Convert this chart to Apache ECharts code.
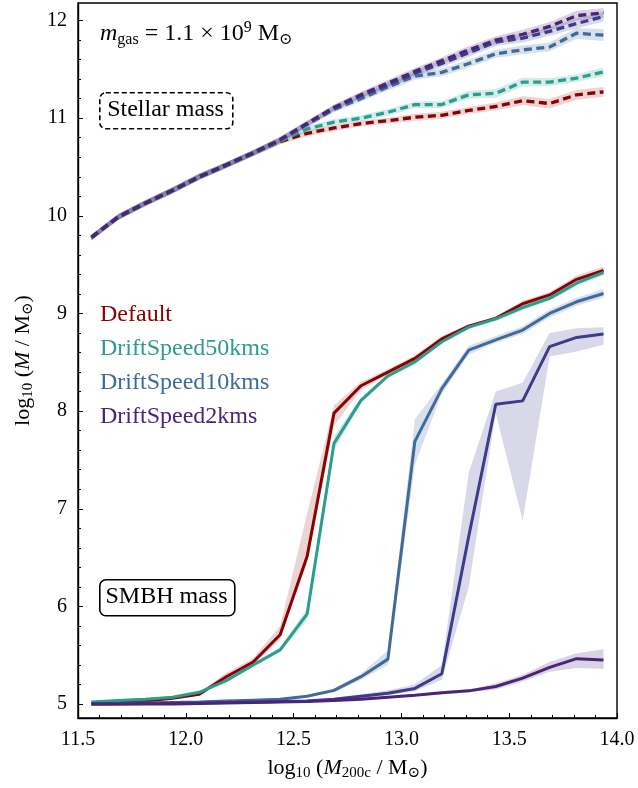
<!DOCTYPE html>
<html>
<head>
<meta charset="utf-8">
<script src="https://cdn.jsdelivr.net/npm/echarts@6/dist/echarts.min.js"></script>
<style>
html,body{margin:0;padding:0;background:#fff;}
#chart{width:638px;height:788px;}
</style>
</head>
<body>
<div id="chart"></div>
<script>
// ---------------- data ----------------
const massBins = [11.5625, 11.6875, 11.8125, 11.9375, 12.0625, 12.1875, 12.3125, 12.4375, 12.5625, 12.6875,
                  12.8125, 12.9375, 13.0625, 13.1875, 13.3125, 13.4375, 13.5625, 13.6875, 13.8125, 13.9375];

const seriesNames = ['Default', 'DriftSpeed50kms', 'DriftSpeed10kms', 'DriftSpeed5kms', 'DriftSpeed2kms'];
const legendNames = ['Default', 'DriftSpeed50kms', 'DriftSpeed10kms', 'DriftSpeed2kms'];
const xTickValues = [11.5, 12.0, 12.5, 13.0, 13.5, 14.0];
const yTickValues = [5, 6, 7, 8, 9, 10, 11, 12];

// SMBH mass (solid lines) + shaded range
const smbhDefault   = [5.01, 5.02, 5.03, 5.06, 5.10, 5.28, 5.43, 5.71, 6.51, 7.98, 8.26, 8.40, 8.54, 8.74, 8.87, 8.95, 9.10, 9.19, 9.35, 9.44];
const smbhDefaultLo = [5.00, 5.01, 5.02, 5.05, 5.09, 5.25, 5.40, 5.66, 6.45, 7.85, 8.22, 8.37, 8.51, 8.71, 8.85, 8.93, 9.06, 9.16, 9.31, 9.40];
const smbhDefaultHi = [5.02, 5.03, 5.05, 5.08, 5.12, 5.32, 5.47, 5.80, 6.95, 8.06, 8.30, 8.43, 8.57, 8.77, 8.89, 8.97, 9.13, 9.22, 9.39, 9.48];

const smbhDrift50   = [5.02, 5.035, 5.05, 5.07, 5.12, 5.24, 5.40, 5.555, 5.92, 7.67, 8.11, 8.36, 8.505, 8.71, 8.86, 8.945, 9.06, 9.155, 9.31, 9.42];
const smbhDrift50Lo = [5.01, 5.025, 5.04, 5.06, 5.11, 5.22, 5.38, 5.53, 5.85, 7.60, 8.08, 8.34, 8.48, 8.69, 8.84, 8.92, 9.03, 9.13, 9.28, 9.39];
const smbhDrift50Hi = [5.03, 5.045, 5.06, 5.08, 5.13, 5.26, 5.42, 5.58, 5.98, 7.75, 8.14, 8.38, 8.53, 8.73, 8.88, 8.97, 9.09, 9.18, 9.34, 9.45];

const smbhDrift10   = [5.00, 5.005, 5.01, 5.015, 5.02, 5.03, 5.04, 5.05, 5.08, 5.14, 5.28, 5.46, 7.69, 8.23, 8.625, 8.73, 8.83, 9.00, 9.12, 9.205];
const smbhDrift10Lo = [4.99, 4.995, 5.00, 5.005, 5.01, 5.02, 5.03, 5.04, 5.07, 5.12, 5.25, 5.40, 7.45, 8.18, 8.58, 8.70, 8.79, 8.96, 9.08, 9.16];
const smbhDrift10Hi = [5.01, 5.015, 5.02, 5.025, 5.03, 5.04, 5.05, 5.06, 5.09, 5.16, 5.31, 5.55, 7.92, 8.28, 8.67, 8.77, 8.87, 9.04, 9.16, 9.25];

const smbhDrift5    = [5.00, 5.00, 5.005, 5.01, 5.01, 5.015, 5.02, 5.025, 5.03, 5.05, 5.08, 5.11, 5.16, 5.31, 6.72, 8.07, 8.105, 8.66, 8.755, 8.79];
const smbhDrift5Lo  = [4.99, 4.99, 5.00, 5.00, 5.00, 5.005, 5.01, 5.015, 5.02, 5.035, 5.06, 5.09, 5.13, 5.25, 6.20, 7.98, 6.88, 8.56, 8.61, 8.68];
const smbhDrift5Hi  = [5.01, 5.01, 5.01, 5.02, 5.02, 5.025, 5.03, 5.035, 5.045, 5.065, 5.10, 5.14, 5.20, 5.40, 7.37, 8.20, 8.29, 8.80, 8.85, 8.86];

const smbhDrift2    = [5.00, 5.00, 5.00, 5.00, 5.005, 5.01, 5.015, 5.02, 5.025, 5.035, 5.05, 5.07, 5.09, 5.115, 5.135, 5.18, 5.265, 5.375, 5.465, 5.45];
const smbhDrift2Lo  = [4.99, 4.99, 4.99, 4.995, 5.00, 5.00, 5.005, 5.01, 5.015, 5.025, 5.04, 5.06, 5.08, 5.10, 5.12, 5.15, 5.23, 5.33, 5.37, 5.36];
const smbhDrift2Hi  = [5.01, 5.01, 5.01, 5.01, 5.015, 5.02, 5.025, 5.03, 5.035, 5.045, 5.06, 5.08, 5.10, 5.13, 5.15, 5.21, 5.30, 5.43, 5.52, 5.56];

// Stellar mass (dashed lines) + half-width of shaded range
const starDefault    = [9.78, 9.99, 10.13, 10.26, 10.40, 10.52, 10.64, 10.76, 10.845, 10.90, 10.945, 10.975, 11.01, 11.03, 11.08, 11.12, 11.18, 11.15, 11.24, 11.27];
const starDefaultErr = [0.03, 0.03, 0.03, 0.03, 0.03, 0.03, 0.03, 0.03, 0.03, 0.03, 0.03, 0.03, 0.035, 0.035, 0.035, 0.04, 0.045, 0.05, 0.05, 0.05];
const starDrift50    = [9.78, 9.99, 10.13, 10.26, 10.40, 10.52, 10.64, 10.765, 10.89, 10.96, 11.00, 11.06, 11.14, 11.14, 11.24, 11.255, 11.37, 11.37, 11.41, 11.475];
const starDrift50Err = [0.03, 0.03, 0.03, 0.03, 0.03, 0.03, 0.03, 0.03, 0.03, 0.03, 0.03, 0.035, 0.035, 0.035, 0.04, 0.045, 0.045, 0.04, 0.04, 0.045];
const starDrift10    = [9.78, 9.99, 10.13, 10.26, 10.40, 10.52, 10.645, 10.775, 10.935, 11.09, 11.20, 11.32, 11.43, 11.47, 11.56, 11.66, 11.70, 11.73, 11.87, 11.85];
const starDrift10Err = [0.03, 0.03, 0.03, 0.03, 0.03, 0.03, 0.03, 0.03, 0.03, 0.03, 0.03, 0.035, 0.035, 0.04, 0.04, 0.04, 0.045, 0.045, 0.055, 0.06];
const starDrift5     = [9.78, 9.99, 10.13, 10.26, 10.40, 10.52, 10.645, 10.78, 10.945, 11.105, 11.23, 11.34, 11.46, 11.56, 11.67, 11.78, 11.82, 11.89, 11.97, 12.04];
const starDrift5Err  = [0.03, 0.03, 0.03, 0.03, 0.03, 0.03, 0.03, 0.03, 0.03, 0.03, 0.03, 0.035, 0.035, 0.035, 0.04, 0.04, 0.045, 0.045, 0.05, 0.05];
const starDrift2     = [9.78, 9.99, 10.13, 10.26, 10.40, 10.52, 10.645, 10.78, 10.945, 11.11, 11.24, 11.36, 11.48, 11.59, 11.70, 11.80, 11.86, 11.94, 12.05, 12.08];
const starDrift2Err  = [0.03, 0.03, 0.03, 0.03, 0.03, 0.03, 0.03, 0.03, 0.03, 0.03, 0.03, 0.035, 0.035, 0.035, 0.04, 0.04, 0.045, 0.045, 0.05, 0.05];

// ---------------- styles ----------------
const colors = ['#8b0000', '#2a9d8f', '#3e6b99', '#3e3a8c', '#4a2577'];
const bandColors = ['rgba(160,40,40,0.20)', 'rgba(42,157,143,0.20)', 'rgba(62,107,153,0.20)', 'rgba(62,58,140,0.20)', 'rgba(74,37,119,0.20)'];
const FONT = '"Liberation Serif", "DejaVu Serif", serif';

const smbhLines = [smbhDefault, smbhDrift50, smbhDrift10, smbhDrift5, smbhDrift2];
const smbhLo = [smbhDefaultLo, smbhDrift50Lo, smbhDrift10Lo, smbhDrift5Lo, smbhDrift2Lo];
const smbhHi = [smbhDefaultHi, smbhDrift50Hi, smbhDrift10Hi, smbhDrift5Hi, smbhDrift2Hi];
const starLines = [starDefault, starDrift50, starDrift10, starDrift5, starDrift2];
const starErrs = [starDefaultErr, starDrift50Err, starDrift10Err, starDrift5Err, starDrift2Err];

function pairs(ys) { return massBins.map((x, i) => [x, ys[i]]); }

function band(lo, hi, color) {
  return {
    type: 'custom', silent: true, z: 1, clip: true,
    data: [[massBins[0], lo[0]]],
    renderItem: function (params, api) {
      const pts = [];
      for (let i = 0; i < massBins.length; i++) pts.push(api.coord([massBins[i], hi[i]]));
      for (let i = massBins.length - 1; i >= 0; i--) pts.push(api.coord([massBins[i], lo[i]]));
      return { type: 'polygon', shape: { points: pts }, style: { fill: color, stroke: null } };
    }
  };
}

const series = [];
for (let k = 0; k < 5; k++) {
  series.push(band(smbhLo[k], smbhHi[k], bandColors[k]));
  const lo = starLines[k].map((v, i) => v - starErrs[k][i]);
  const hi = starLines[k].map((v, i) => v + starErrs[k][i]);
  series.push(band(lo, hi, bandColors[k]));
}
for (let k = 0; k < 5; k++) {
  series.push({
    name: seriesNames[k], type: 'line', data: pairs(smbhLines[k]), showSymbol: false, symbol: 'none',
    z: 3 + k, lineStyle: { color: colors[k], width: 3 }, itemStyle: { color: colors[k] }
  });
  series.push({
    name: seriesNames[k], type: 'line', data: pairs(starLines[k]), showSymbol: false, symbol: 'none',
    z: 3 + k, lineStyle: { color: colors[k], width: 3.3, type: [8, 4.5] }, itemStyle: { color: colors[k] }
  });
}

const yMin = 4.857, yMax = 12.18;
const yMinorTicks = [];
for (let v = 50; v <= 120; v += 2) yMinorTicks.push(v / 10);

const subRich = {
  s: { fontSize: 15, fontFamily: FONT, padding: [10, 0, 0, 0], color: '#000' },
  i: { fontSize: 22, fontFamily: FONT, fontStyle: 'italic', color: '#000' },
  n: { fontSize: 22, fontFamily: FONT, color: '#000' },
  p: { fontSize: 15, fontFamily: FONT, padding: [0, 0, 11, 0], color: '#000' }
};
const annRich = {
  s: { fontSize: 16, fontFamily: FONT, padding: [11, 0, 0, 0], color: '#000' },
  i: { fontSize: 24, fontFamily: FONT, fontStyle: 'italic', color: '#000' },
  n: { fontSize: 24, fontFamily: FONT, color: '#000' },
  p: { fontSize: 16, fontFamily: FONT, padding: [0, 0, 12, 0], color: '#000' }
};

const option = {
  animation: false,
  backgroundColor: '#fff',
  grid: { left: 78, right: 21, top: 3, bottom: 70, show: true, borderColor: '#000', borderWidth: 1.4, backgroundColor: 'transparent' },
  legend: {
    left: 90, top: 298, orient: 'vertical', itemWidth: 0, itemHeight: 0, itemGap: 10, selectedMode: false,
    icon: 'rect',
    data: legendNames.map(n => ({ name: n, textStyle: { color: colors[seriesNames.indexOf(n)] } })),
    textStyle: { fontFamily: FONT, fontSize: 24 }
  },
  xAxis: {
    type: 'value', min: 11.5, max: 14.0, interval: 0.5,
    axisLine: { show: true, lineStyle: { color: '#000', width: 1.4 } },
    axisTick: { show: true, inside: true, length: 5, lineStyle: { color: '#000', width: 1 } },
    minorTick: { show: true, splitNumber: 5, length: 3, lineStyle: { color: '#000', width: 1 } },
    splitLine: { show: false },
    axisLabel: { color: '#000', fontFamily: FONT, fontSize: 20, margin: 12, formatter: v => v.toFixed(1), customValues: xTickValues },
    name: '{n|log}{s|10}{n| (}{i|M}{s|200c}{n| / M}{s|⊙}{n|)}',
    nameLocation: 'middle', nameGap: 38,
    nameTextStyle: { fontFamily: FONT, fontSize: 22, color: '#000', rich: subRich }
  },
  yAxis: [{
    type: 'value', min: yMin, max: yMax,
    axisLine: { show: true, lineStyle: { color: '#000', width: 1.4 } },
    axisTick: { show: true, inside: true, length: 5, customValues: yTickValues, lineStyle: { color: '#000', width: 1 } },
    splitLine: { show: false },
    axisLabel: { color: '#000', fontFamily: FONT, fontSize: 20, margin: 11, customValues: yTickValues, formatter: v => String(Math.round(v)) },
    name: '{n|log}{s|10}{n| (}{i|M}{n| / M}{s|⊙}{n|)}',
    nameLocation: 'middle', nameGap: 42, nameRotate: 90,
    nameTextStyle: { fontFamily: FONT, fontSize: 22, color: '#000', rich: subRich }
  }, {
    type: 'value', min: yMin, max: yMax, position: 'left',
    axisLine: { show: false },
    axisTick: { show: true, inside: true, length: 3, customValues: yMinorTicks, lineStyle: { color: '#000', width: 1 } },
    axisLabel: { show: false },
    splitLine: { show: false }
  }],
  graphic: [
    {
      type: 'text', left: 100, top: 20, z: 10,
      style: {
        text: '{i|m}{s|gas}{n| = 1.1 × 10}{p|9}{n| M}{s|⊙}',
        rich: annRich, fill: '#000'
      }
    },
    {
      type: 'rect', left: 99, top: 92, z: 10,
      shape: { width: 133, height: 36, r: 6 },
      style: { fill: '#fff', stroke: '#000', lineWidth: 1.6, lineDash: [5, 3] }
    },
    {
      type: 'text', x: 165.5, y: 110, z: 11,
      style: { text: 'Stellar mass', fontFamily: FONT, fontSize: 24, fill: '#000', align: 'center', verticalAlign: 'middle' }
    },
    {
      type: 'rect', left: 99, top: 579, z: 10,
      shape: { width: 135, height: 36, r: 6 },
      style: { fill: '#fff', stroke: '#000', lineWidth: 1.6 }
    },
    {
      type: 'text', x: 166.5, y: 597, z: 11,
      style: { text: 'SMBH mass', fontFamily: FONT, fontSize: 24, fill: '#000', align: 'center', verticalAlign: 'middle' }
    }
  ],
  series: series
};

const chart = echarts.init(document.getElementById('chart'), null, { renderer: 'canvas' });
chart.setOption(option);
</script>
</body>
</html>
